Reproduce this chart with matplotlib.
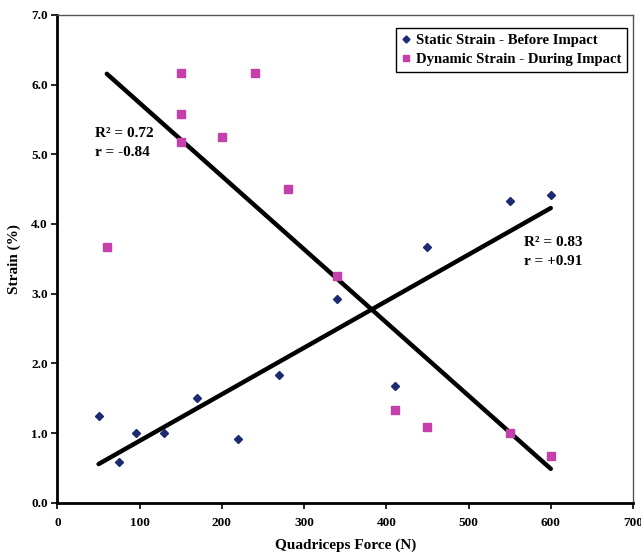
import numpy as np
import matplotlib
matplotlib.use('Agg')
import matplotlib.pyplot as plt

plt.rcParams['font.family'] = ['Liberation Serif', 'DejaVu Serif']
plt.rcParams['font.weight'] = 'bold'

# static strain (before impact)
static_force = [50, 75, 95, 130, 170, 220, 270, 340, 410, 450, 550, 600]
static_strain = [1.25, 0.58, 1.0, 1.0, 1.5, 0.92, 1.83, 2.92, 1.67, 3.67, 4.33, 4.42]

# dynamic strain (during impact)
dyn_force = [60, 150, 150, 150, 200, 240, 280, 340, 410, 450, 550, 600]
dyn_strain = [3.67, 6.17, 5.58, 5.17, 5.25, 6.17, 4.5, 3.25, 1.33, 1.08, 1.0, 0.67]

x_ticks = [0, 100, 200, 300, 400, 500, 600, 700]
y_ticks = [0, 1, 2, 3, 4, 5, 6, 7]

navy = '#1C2A72'
magenta = '#C43FA9'

fig = plt.figure(figsize=(6.41, 5.53), dpi=100)
ax = fig.add_axes([0.0897, 0.091, 0.8978, 0.8819])

ax.plot(static_force, static_strain, linestyle='none', marker='D', markersize=4.2,
        color=navy, label='Static Strain - Before Impact', zorder=3)
ax.plot(dyn_force, dyn_strain, linestyle='none', marker='s', markersize=5.5,
        color=magenta, label='Dynamic Strain - During Impact', zorder=3)

# linear trend lines
for fx, fy in [(static_force, static_strain), (dyn_force, dyn_strain)]:
    k, b = np.polyfit(fx, fy, 1)
    xs = np.array([min(fx), max(fx)])
    ax.plot(xs, k * xs + b, color='black', linewidth=3.2, solid_capstyle='round', zorder=2)

ax.text(46, 5.3, 'R\u00b2 = 0.72', fontsize=11, fontweight='bold', va='center')
ax.text(46, 5.03, 'r = -0.84', fontsize=11, fontweight='bold', va='center')
ax.text(568, 3.73, 'R\u00b2 = 0.83', fontsize=11, fontweight='bold', va='center')
ax.text(568, 3.46, 'r = +0.91', fontsize=11, fontweight='bold', va='center')

ax.set_xlim(0, 700)
ax.set_ylim(0, 7)
ax.set_xticks(x_ticks)
ax.set_yticks(y_ticks)
ax.set_xticklabels([str(v) for v in x_ticks], fontsize=9.5, fontweight='bold')
ax.set_yticklabels(['%.1f' % v for v in y_ticks], fontsize=9.5, fontweight='bold')
ax.tick_params(direction='out', length=4, width=1.2, color='black', pad=3)
ax.tick_params(axis='x', pad=6)

for s in ['left', 'bottom']:
    ax.spines[s].set_linewidth(2)
    ax.spines[s].set_color('black')
for s in ['top', 'right']:
    ax.spines[s].set_linewidth(1)
    ax.spines[s].set_color('#555555')

ax.set_xlabel('Quadriceps Force (N)', fontsize=11, fontweight='bold', labelpad=7)
ax.set_ylabel('Strain (%)', fontsize=11, fontweight='bold', labelpad=7)

leg = ax.legend(loc='upper right', bbox_to_anchor=(0.9896, 0.9733), fancybox=False,
                edgecolor='black', framealpha=1, fontsize=10.6, handlelength=0.55,
                handletextpad=0.35, borderpad=0.4, labelspacing=0.35, borderaxespad=0,
                markerscale=0.85)
leg.get_frame().set_linewidth(1)
for t in leg.get_texts():
    t.set_fontweight('bold')

fig.savefig('out.png', dpi=100)
